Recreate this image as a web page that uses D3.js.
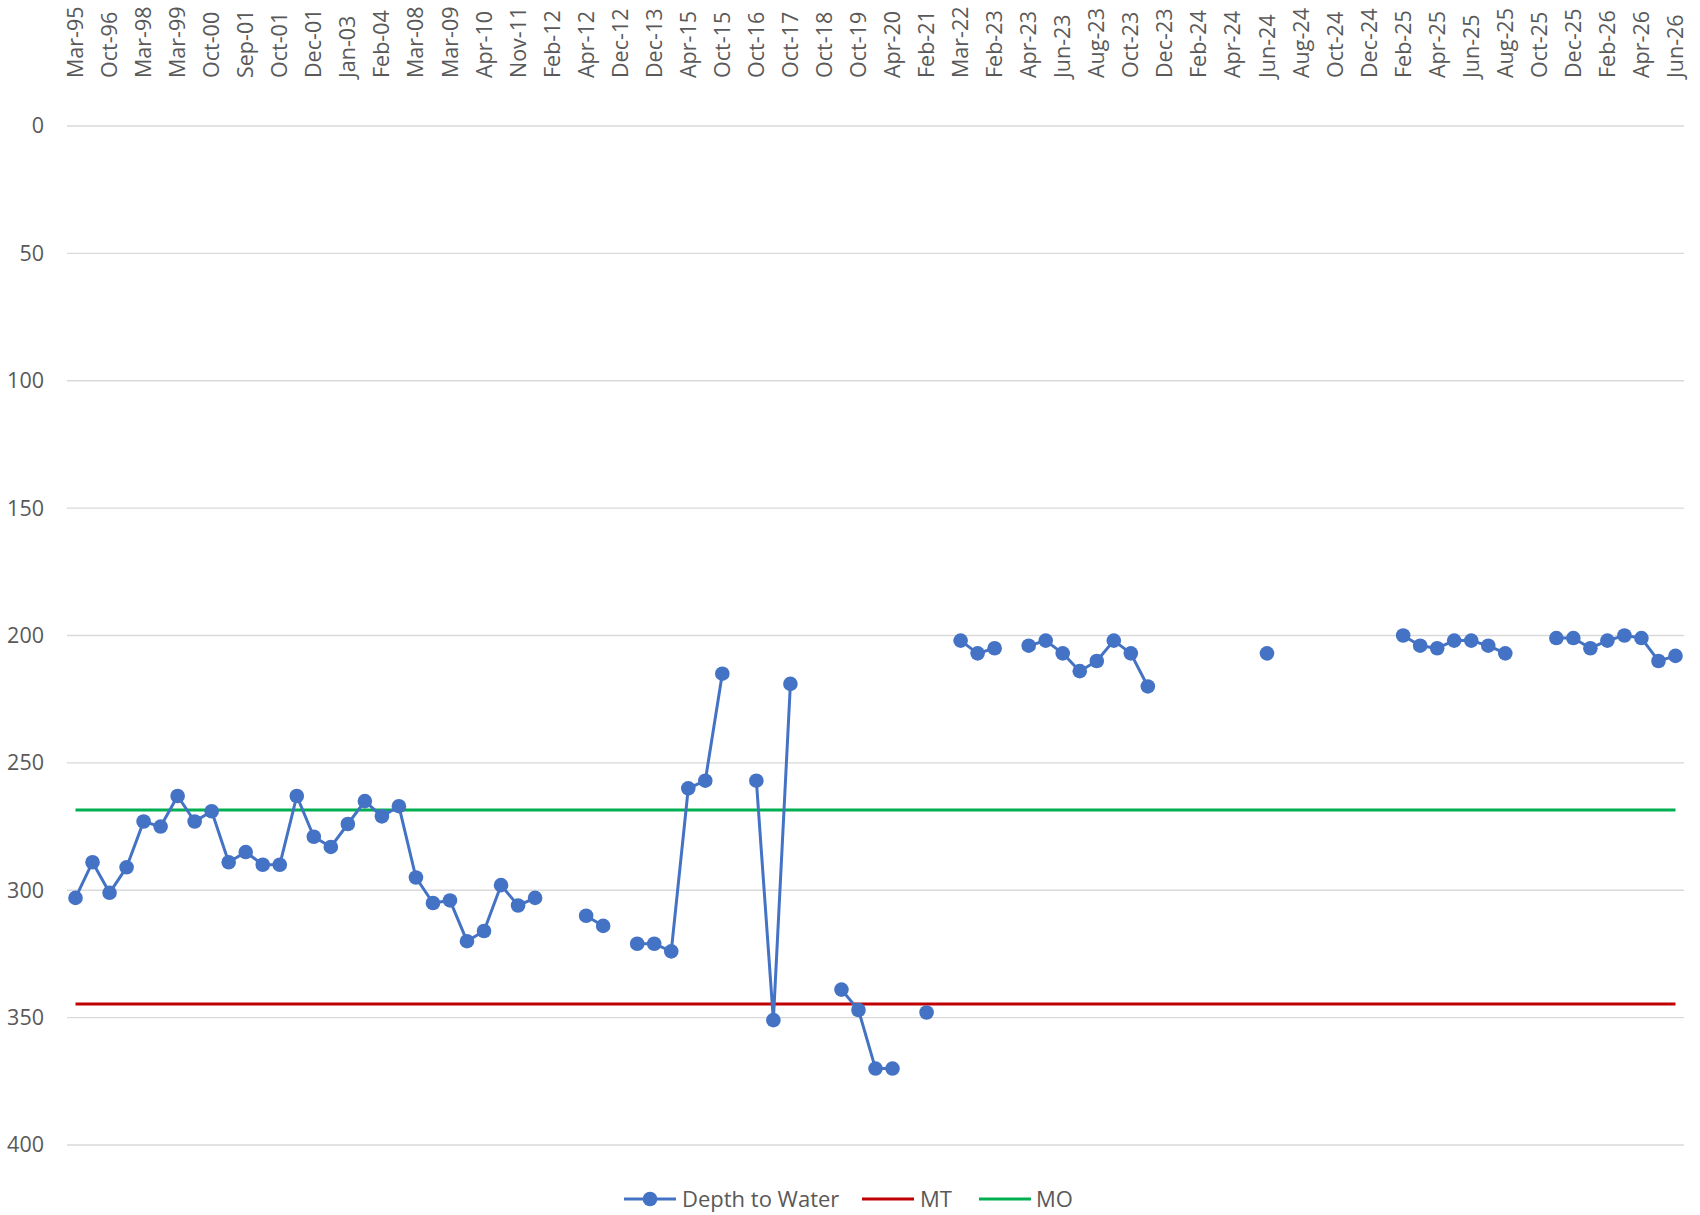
<!DOCTYPE html>
<html>
<head>
<meta charset="utf-8">
<script src="https://cdn.jsdelivr.net/npm/d3@7"></script>
<style>
  html, body { margin: 0; padding: 0; background: #fff; }
  svg { display: block; }
  text { font-family: "Open Sans", sans-serif; fill: #595959; }
</style>
</head>
<body>
<svg id="chart" width="1700" height="1215"></svg>
<script>
// Sampling dates (category axis); every other one is labelled
const dates = [
  "Mar-95","Oct-95","Oct-96","Oct-97","Mar-98","Oct-98","Mar-99","Oct-99","Oct-00","Mar-01",
  "Sep-01","Sep-01","Oct-01","Nov-01","Dec-01","Jun-02","Jan-03","Jul-03","Feb-04","Mar-07",
  "Mar-08","Oct-08","Mar-09","Oct-09","Apr-10","Oct-10","Nov-11","Dec-11","Feb-12","Mar-12",
  "Apr-12","Oct-12","Dec-12","Oct-13","Dec-13","Oct-14","Apr-15","Jun-15","Oct-15","Apr-16",
  "Oct-16","Apr-17","Oct-17","Apr-18","Oct-18","Apr-19","Oct-19","Feb-20","Apr-20","Oct-20",
  "Feb-21","Oct-21","Mar-22","Oct-22","Feb-23","Mar-23","Apr-23","May-23","Jun-23","Jul-23",
  "Aug-23","Sep-23","Oct-23","Nov-23","Dec-23","Jan-24","Feb-24","Mar-24","Apr-24","May-24",
  "Jun-24","Jul-24","Aug-24","Sep-24","Oct-24","Nov-24","Dec-24","Jan-25","Feb-25","Mar-25",
  "Apr-25","May-25","Jun-25","Jul-25","Aug-25","Sep-25","Oct-25","Nov-25","Dec-25","Jan-26",
  "Feb-26","Mar-26","Apr-26","May-26","Jun-26"
];

// Depth to water (ft below ground); null = no measurement
const depthToWater = [
  303, 289, 301, 291, 273, 275, 263, 273, 269, 289,
  285, 290, 290, 263, 279, 283, 274, 265, 271, 267,
  295, 305, 304, 320, 316, 298, 306, 303, null, null,
  310, 314, null, 321, 321, 324, 260, 257, 215, null,
  257, 351, 219, null, null, 339, 347, 370, 370, null,
  348, null, 202, 207, 205, null, 204, 202, 207, 214,
  210, 202, 207, 220, null, null, null, null, null, null,
  207, null, null, null, null, null, null, null, 200, 204,
  205, 202, 202, 204, 207, null, null, 201, 201, 205,
  202, 200, 201, 210, 208
];

// Threshold levels
const mtLevel = 344.7;   // minimum threshold
const moLevel = 268.5;   // measurable objective

const yTicks = [0, 50, 100, 150, 200, 250, 300, 350, 400];

const seriesNames = ["Depth to Water", "MT", "MO"];
const colors = { "Depth to Water": "#4472C4", "MT": "#C00000", "MO": "#00B050" };

const svg = d3.select("#chart");
svg.append("rect").attr("width", 1700).attr("height", 1215).attr("fill", "#fff");

const plotLeft = 67, plotRight = 1684, plotTop = 126, plotBottom = 1145;

const x = d3.scaleBand().domain(d3.range(dates.length)).range([plotLeft, plotRight]);
const cx = i => x(i) + x.bandwidth() / 2;
const y = d3.scaleLinear().domain([0, 400]).range([plotTop, plotBottom]);

// Horizontal gridlines
svg.append("g")
  .selectAll("line")
  .data(yTicks)
  .join("line")
  .attr("x1", plotLeft).attr("x2", plotRight)
  .attr("y1", d => y(d)).attr("y2", d => y(d))
  .attr("stroke", "#D9D9D9").attr("stroke-width", 1.3);

// Value axis labels
const yAxis = d3.axisLeft(y).tickValues(yTicks).tickSize(0).tickPadding(0);
const yg = svg.append("g").attr("transform", `translate(44,0)`).call(yAxis);
yg.select(".domain").remove();
yg.selectAll("text")
  .attr("font-size", "21.5px")
  .attr("font-family", "Open Sans, sans-serif")
  .attr("fill", "#595959");

// Category labels, rotated, along the top
const labelIdx = d3.range(0, dates.length, 2);
svg.append("g")
  .selectAll("text")
  .data(labelIdx)
  .join("text")
  .attr("transform", i => `translate(${cx(i)},78) rotate(-90)`)
  .attr("text-anchor", "start")
  .attr("dy", "0.35em")
  .attr("font-size", "21.5px")
  .text(i => dates[i]);

// Threshold lines
const flatLine = v => d3.line().x((d, i) => cx(i)).y(() => y(v));
svg.append("path")
  .attr("d", flatLine(moLevel)(dates))
  .attr("fill", "none").attr("stroke", colors.MO).attr("stroke-width", 3);
svg.append("path")
  .attr("d", flatLine(mtLevel)(dates))
  .attr("fill", "none").attr("stroke", colors.MT).attr("stroke-width", 3);

// Depth to water series
const pts = depthToWater.map((v, i) => ({ i, v }));
const line = d3.line()
  .defined(d => d.v !== null)
  .x(d => cx(d.i))
  .y(d => y(d.v));
svg.append("path")
  .attr("d", line(pts))
  .attr("fill", "none")
  .attr("stroke", colors["Depth to Water"])
  .attr("stroke-width", 3)
  .attr("stroke-linejoin", "round");
svg.append("g")
  .selectAll("circle")
  .data(pts.filter(d => d.v !== null))
  .join("circle")
  .attr("cx", d => cx(d.i))
  .attr("cy", d => y(d.v))
  .attr("r", 7.3)
  .attr("fill", colors["Depth to Water"]);

// Legend
const legendItems = [
  { name: seriesNames[0], x1: 624, x2: 676, tx: 682, marker: true },
  { name: seriesNames[1], x1: 862, x2: 914, tx: 920, marker: false },
  { name: seriesNames[2], x1: 979, x2: 1031, tx: 1036, marker: false }
];
const lg = svg.append("g");
const ly = 1199;
legendItems.forEach(it => {
  lg.append("line")
    .attr("x1", it.x1).attr("x2", it.x2).attr("y1", ly).attr("y2", ly)
    .attr("stroke", colors[it.name]).attr("stroke-width", 3);
  if (it.marker) {
    lg.append("circle").attr("cx", (it.x1 + it.x2) / 2).attr("cy", ly).attr("r", 7.3)
      .attr("fill", colors[it.name]);
  }
  lg.append("text").attr("x", it.tx).attr("y", ly).attr("dy", "0.35em")
    .attr("font-size", "22px").text(it.name);
});
</script>
</body>
</html>
